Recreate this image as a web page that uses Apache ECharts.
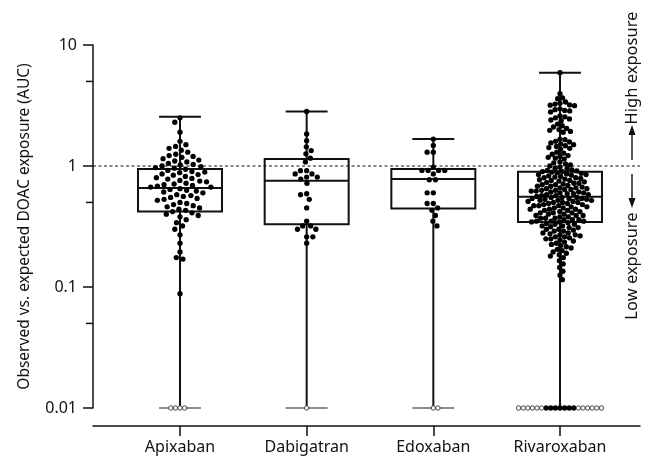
<!DOCTYPE html>
<html><head><meta charset="utf-8">
<script src="https://cdn.jsdelivr.net/npm/echarts@6/dist/echarts.min.js"></script>
<style>html,body{margin:0;padding:0;background:#fff}#c{width:654px;height:461px}</style>
</head><body><div id="c"></div>
<script>
// ---------------- data ----------------
const categories = ['Apixaban', 'Dabigatran', 'Edoxaban', 'Rivaroxaban'];
const boxMin    = [0.01, 0.01, 0.01, 0.01];
const boxQ1     = [0.42, 0.33, 0.446, 0.345];
const boxMedian = [0.657, 0.755, 0.78, 0.556];
const boxQ3     = [0.945, 1.14, 0.945, 0.897];
const boxMax    = [2.55, 2.82, 1.67, 5.9];

const apixabanValues = [2.5, 2.3, 1.9, 1.6, 1.5, 1.45, 1.4, 1.35, 1.3, 1.25, 1.22, 1.2, 1.18, 1.15, 1.12, 1.1, 1.08, 1.05, 1.03, 1.02, 1.0, 0.99, 0.97, 0.96,
  0.94, 0.92, 0.9, 0.89, 0.88, 0.86, 0.85, 0.84, 0.82, 0.8, 0.79, 0.78, 0.76, 0.75, 0.74, 0.72, 0.71, 0.7, 0.69, 0.68, 0.67, 0.67,
  0.65, 0.64, 0.63, 0.62, 0.61, 0.6, 0.58, 0.57, 0.56, 0.55, 0.54, 0.53, 0.52, 0.5, 0.49, 0.48, 0.47, 0.46, 0.45, 0.44, 0.43, 0.42,
  0.41, 0.4, 0.39, 0.38, 0.36, 0.34, 0.32, 0.3, 0.27, 0.23, 0.195, 0.175, 0.17, 0.088];
const dabigatranValues = [2.82, 1.84, 1.62, 1.44, 1.34, 1.26, 1.16, 1.08, 0.915, 0.915, 0.86, 0.86, 0.81, 0.81, 0.78, 0.72,
  0.59, 0.58, 0.53, 0.45, 0.35, 0.32, 0.32, 0.3, 0.3, 0.26, 0.26, 0.23];
const edoxabanValues = [1.67, 1.48, 1.3, 1.3, 0.98, 0.92, 0.92, 0.92, 0.92, 0.86, 0.77, 0.77, 0.6, 0.6, 0.49, 0.49, 0.45, 0.43, 0.39, 0.35, 0.32];
const rivaroxabanValues = [5.9, 3.96, 3.65, 3.6, 3.38, 3.3, 3.25, 3.2, 3.18, 3.15, 2.97, 2.92, 2.88, 2.85, 2.8, 2.6, 2.55, 2.5, 2.45, 2.4, 2.37,
  2.22, 2.15, 2.1, 2.05, 2.0, 1.97, 1.93, 1.9, 1.67, 1.65, 1.6, 1.58, 1.55, 1.52, 1.5, 1.47, 1.45, 1.42, 1.4, 1.38, 1.3, 1.28, 1.25, 1.22,
  1.2, 1.18, 1.16, 1.14, 1.08, 1.06, 1.04, 1.02, 1.0, 0.98, 0.96, 0.95,
  0.93, 0.92, 0.91, 0.9, 0.9, 0.89, 0.88, 0.87, 0.86, 0.85, 0.85, 0.84, 0.83, 0.82, 0.81, 0.8, 0.8, 0.79, 0.78, 0.77,
  0.76, 0.76, 0.75, 0.74, 0.73, 0.72, 0.72, 0.71, 0.7, 0.7, 0.69, 0.68, 0.68, 0.67, 0.66, 0.66, 0.65, 0.65, 0.64, 0.64,
  0.63, 0.63, 0.62, 0.62, 0.61, 0.61, 0.6, 0.6, 0.59, 0.59, 0.58, 0.58, 0.57, 0.57, 0.56,
  0.55, 0.55, 0.55, 0.54, 0.54, 0.54, 0.53, 0.53, 0.52, 0.52, 0.52, 0.51, 0.51, 0.5, 0.5, 0.5, 0.49, 0.49, 0.48, 0.48,
  0.47, 0.47, 0.47, 0.46, 0.46, 0.45, 0.45, 0.44, 0.44, 0.44, 0.43, 0.43, 0.42, 0.42, 0.41, 0.41, 0.41, 0.4, 0.4, 0.39,
  0.39, 0.39, 0.38, 0.38, 0.37, 0.37, 0.37, 0.36, 0.36, 0.36, 0.35, 0.35, 0.35, 0.345, 0.345,
  0.34, 0.335, 0.33, 0.33, 0.32, 0.32, 0.315, 0.31, 0.31, 0.3, 0.3, 0.295, 0.29, 0.29, 0.28, 0.28, 0.275, 0.27, 0.27, 0.265,
  0.26, 0.26, 0.255, 0.25, 0.25, 0.245, 0.24, 0.235, 0.23, 0.225, 0.22, 0.215, 0.21, 0.205, 0.2, 0.195, 0.19, 0.185, 0.18, 0.175,
  0.165, 0.155, 0.145, 0.135, 0.125, 0.115,
  0.01, 0.01, 0.01, 0.01, 0.01, 0.01, 0.01];
// values below the limit of quantification (open circles)
const apixabanBLQ = [0.01, 0.01, 0.01, 0.01];
const dabigatranBLQ = [0.01];
const edoxabanBLQ = [0.01, 0.01];
const rivaroxabanBLQ = [0.01, 0.01, 0.01, 0.01, 0.01, 0.01, 0.01, 0.01, 0.01, 0.01, 0.01, 0.01];

const yMinorTickValues = [0.05, 0.5, 5];
const referenceLine = [[0, 1], [1, 1]];
const yAxisTitle = 'Observed vs. expected DOAC exposure (AUC)';
const highLabel = 'High exposure';
const lowLabel = 'Low exposure';

// ---------------- chart ----------------
const FONT = '"Noto Sans", "Open Sans", sans-serif';
const INK = '#111';
const chart = echarts.init(document.getElementById('c'), null, { renderer: 'canvas' });
const groups = [apixabanValues, dabigatranValues, edoxabanValues, rivaroxabanValues];
const blqGroups = [apixabanBLQ, dabigatranBLQ, edoxabanBLQ, rivaroxabanBLQ];
const dotGap = [6.8, 6.2, 6.2, 5.0];

const fmt = v => String(parseFloat(Number(v).toPrecision(6)));

const option = {
  animation: false,
  backgroundColor: '#fff',
  grid: [
    { left: 116.67, right: 30.67, top: 45, bottom: 53 },
    { left: 93, right: 14, top: 45, bottom: 53 }
  ],
  xAxis: [
    { type: 'category', gridIndex: 0, data: categories, offset: 18,
      axisLine: { show: false },
      axisTick: { show: true, alignWithLabel: true, length: 10, lineStyle: { color: INK, width: 1.5 } },
      axisLabel: { fontSize: 16, color: INK, margin: 13, fontFamily: FONT },
      splitLine: { show: false } },
    { type: 'value', gridIndex: 1, min: 0, max: 1, offset: 18,
      axisLine: { show: true, lineStyle: { color: INK, width: 1.5 } },
      axisTick: { show: false }, axisLabel: { show: false }, splitLine: { show: false } },
    { type: 'value', gridIndex: 0, min: -0.5, max: 3.5, show: false, splitLine: { show: false } }
  ],
  yAxis: [
    { type: 'log', logBase: 10, gridIndex: 0, min: 0.01, max: 10, show: false, splitLine: { show: false } },
    { type: 'log', logBase: 10, gridIndex: 1, min: 0.01, max: 10, splitNumber: 3,
      axisLine: { show: true, lineStyle: { color: INK, width: 1.5 } },
      axisTick: { show: true, length: 10, lineStyle: { color: INK, width: 1.5 } },
      axisLabel: { fontSize: 16, color: INK, margin: 16, fontFamily: FONT, formatter: fmt },
      splitLine: { show: false },
      name: yAxisTitle, nameLocation: 'middle', nameGap: 60,
      nameTextStyle: { fontSize: 15.5, color: INK, fontFamily: FONT } }
  ],
  graphic: [
    { type: 'text', x: 632, y: 68, rotation: Math.PI / 2,
      style: { text: highLabel, fontSize: 16.5, fill: INK, align: 'center', verticalAlign: 'middle', fontFamily: FONT } },
    { type: 'text', x: 632, y: 266, rotation: Math.PI / 2,
      style: { text: lowLabel, fontSize: 16.5, fill: INK, align: 'center', verticalAlign: 'middle', fontFamily: FONT } },
    { type: 'line', shape: { x1: 632, y1: 160, x2: 632, y2: 133 }, style: { stroke: INK, lineWidth: 1.4 } },
    { type: 'polygon', shape: { points: [[632, 125], [628.5, 135], [635.5, 135]] }, style: { fill: INK } },
    { type: 'line', shape: { x1: 632, y1: 174, x2: 632, y2: 200 }, style: { stroke: INK, lineWidth: 1.4 } },
    { type: 'polygon', shape: { points: [[632, 208], [628.5, 198], [635.5, 198]] }, style: { fill: INK } }
  ],
  series: [
    { type: 'line', xAxisIndex: 1, yAxisIndex: 1, data: referenceLine, symbol: 'none', silent: true, z: 1,
      lineStyle: { color: INK, width: 1, type: [3, 2.5] } },
    { type: 'custom', xAxisIndex: 1, yAxisIndex: 1, silent: true, z: 1,
      data: yMinorTickValues.map(v => [0, v]),
      renderItem: (params, api) => {
        const p = api.coord([0, api.value(1)]);
        return { type: 'line', shape: { x1: p[0] - 7, y1: p[1], x2: p[0], y2: p[1] },
                 style: { stroke: INK, lineWidth: 1.5 } };
      } },
    { type: 'custom', xAxisIndex: 0, yAxisIndex: 0, silent: true, z: 2,
      encode: { x: 0, y: [1, 2, 3, 4, 5] },
      data: categories.map((c, i) => [i, boxMin[i], boxQ1[i], boxMedian[i], boxQ3[i], boxMax[i]]),
      renderItem: (params, api) => {
        const i = api.value(0);
        const pMin = api.coord([i, api.value(1)]);
        const pQ1 = api.coord([i, api.value(2)]);
        const pMed = api.coord([i, api.value(3)]);
        const pQ3 = api.coord([i, api.value(4)]);
        const pMax = api.coord([i, api.value(5)]);
        const band = Math.abs(api.coord([1, 1])[0] - api.coord([0, 1])[0]);
        const cx = pMed[0], w = band * 0.663, cw = band * 0.331;
        const st = { stroke: INK, lineWidth: 2, fill: null };
        return { type: 'group', children: [
          { type: 'line', shape: { x1: cx, y1: pQ3[1], x2: cx, y2: pMax[1] }, style: st },
          { type: 'line', shape: { x1: cx, y1: pQ1[1], x2: cx, y2: pMin[1] }, style: st },
          { type: 'line', shape: { x1: cx - cw / 2, y1: pMax[1], x2: cx + cw / 2, y2: pMax[1] }, style: st },
          { type: 'line', shape: { x1: cx - cw / 2, y1: pMin[1], x2: cx + cw / 2, y2: pMin[1] }, style: { stroke: '#666', lineWidth: 1.3 } },
          { type: 'rect', shape: { x: cx - w / 2, y: pQ3[1], width: w, height: pQ1[1] - pQ3[1] }, style: { stroke: INK, lineWidth: 2, fill: 'rgba(0,0,0,0)' } },
          { type: 'line', shape: { x1: cx - w / 2, y1: pMed[1], x2: cx + w / 2, y2: pMed[1] }, style: st }
        ] };
      } }
  ]
};
chart.setOption(option);

// ---------------- beeswarm layout of the dots ----------------
const bandPx = chart.convertToPixel({ xAxisIndex: 2 }, 1) - chart.convertToPixel({ xAxisIndex: 2 }, 0);
const filledPts = [], openPts = [];
groups.forEach((vals, gi) => {
  const D = dotGap[gi];
  const items = vals.map(v => ({ v, open: false })).concat(blqGroups[gi].map(v => ({ v, open: true })));
  items.forEach(it => { it.py = chart.convertToPixel({ yAxisIndex: 0 }, it.v); });
  items.sort((a, b) => (a.py - b.py) || ((a.open ? 1 : 0) - (b.open ? 1 : 0)));
  const placed = [];
  let flip = 1;
  items.forEach(it => {
    const ivs = [];
    placed.forEach(p => {
      const dd = (it.open || p.open || it.v <= 0.0101) ? 4.6 : D;
      const dy = Math.abs(p.py - it.py);
      if (dy < dd) { const w = Math.sqrt(dd * dd - dy * dy); ivs.push([p.x - w, p.x + w]); }
    });
    const cands = [0];
    ivs.forEach(iv => { cands.push(iv[0], iv[1]); });
    cands.sort((a, b) => (Math.abs(a) - Math.abs(b)) || (flip * (b - a)));
    let x = 0;
    for (const c of cands) {
      if (!ivs.some(iv => c > iv[0] + 1e-6 && c < iv[1] - 1e-6)) { x = c; break; }
    }
    flip = -flip;
    it.x = x;
    placed.push(it);
    const pt = [gi + x / bandPx, it.v];
    (it.open ? openPts : filledPts).push(pt);
  });
});

chart.setOption({
  series: option.series.concat([
    { type: 'scatter', xAxisIndex: 2, yAxisIndex: 0, data: filledPts, symbol: 'circle', symbolSize: 5.3, z: 4, silent: true,
      itemStyle: { color: '#000', opacity: 1 } },
    { type: 'scatter', xAxisIndex: 2, yAxisIndex: 0, data: openPts, symbol: 'circle', symbolSize: 4.4, z: 4, silent: true,
      itemStyle: { color: '#fff', borderColor: '#333', borderWidth: 0.9, opacity: 1 } }
  ])
});
</script></body></html>
